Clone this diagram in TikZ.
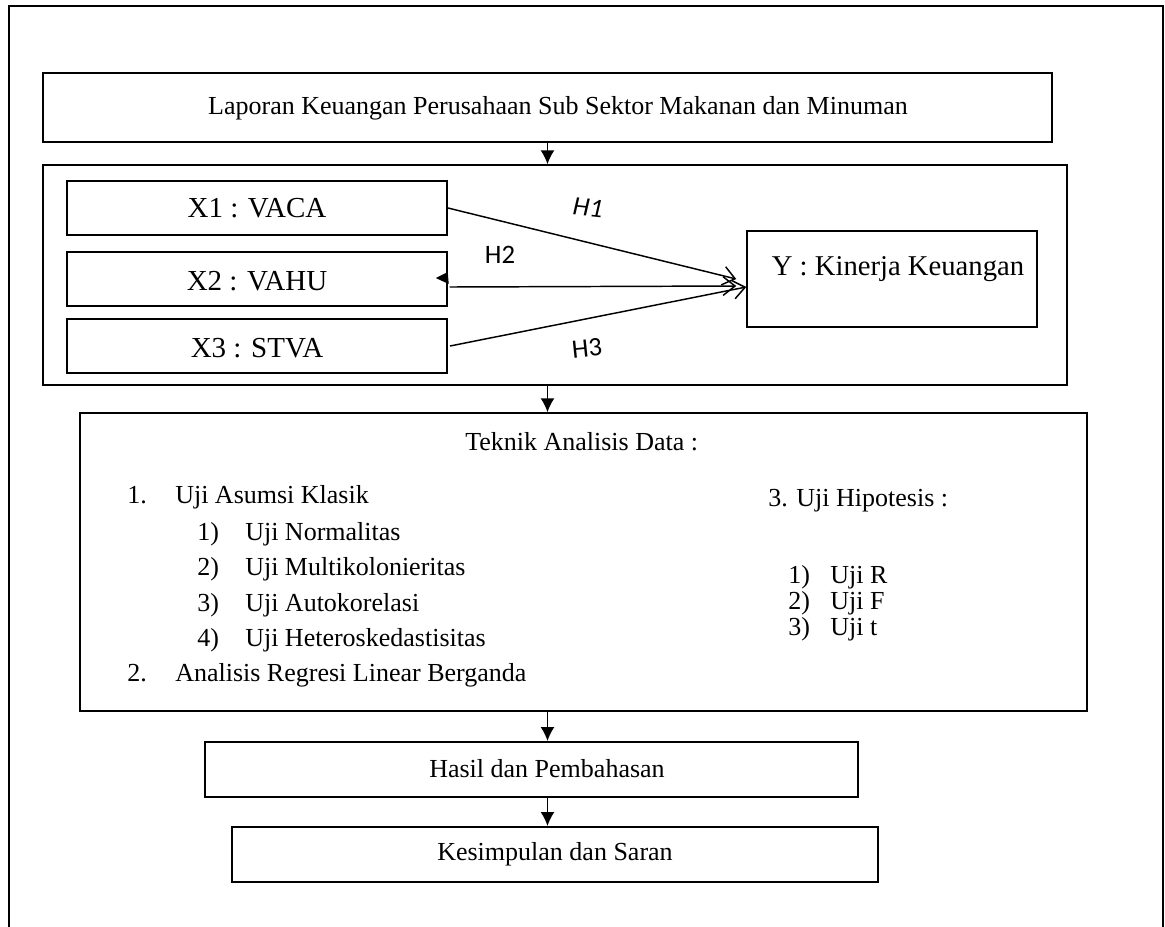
\documentclass[tikz,border=0pt]{standalone}
\usepackage{fontspec}
\setmainfont{Liberation Serif}
\newfontfamily\hfont{Carlito}
\usetikzlibrary{arrows.meta,calc}
\newcommand\bx[6][]{\node[box, #1, minimum width={(#5-#3)*0.75pt}, minimum height={(#6-#4)*0.75pt}] (#2) at ({(#3+#5)/2},{(#4+#6)/2}) {};}
\begin{document}
\begin{tikzpicture}[x=0.75pt,y=-0.75pt,
  box/.style={draw, line width=1.5pt, rectangle, inner sep=0pt},
  thinbox/.style={line width=1.1pt},
  flow/.style={-{Latex[length=10.5pt,width=10.5pt]}, line width=1.2pt},
  harrow/.style={-{Straight Barb[length=9pt,width=14pt,line width=1.1pt]}, line width=1.1pt},
  txt/.style={font=\fontsize{19.5}{23}\selectfont, inner sep=0pt},
  big/.style={font=\fontsize{21.75}{26}\selectfont, inner sep=0pt},
  mid/.style={font=\fontsize{21.5}{25}\selectfont, inner sep=0pt},
  hl/.style={font=\hfont\fontsize{20}{24}\selectfont, inner sep=0pt},
  hli/.style={font=\hfont\itshape\fontsize{20}{24}\selectfont, inner sep=0pt},
  li/.style={txt, anchor=base west}]
\useasboundingbox (0,0) rectangle (1165,926);
% outer frame
\draw[line width=1.5pt] (9,940) -- (9,6) -- (1163,6) -- (1163,940);
% boxes
\bx{lap}{43}{73}{1052}{142}
\bx[thinbox]{grp}{43}{165}{1067}{385}
\bx{x1}{67}{181}{447}{235}
\bx[thinbox]{x2}{67}{252}{447}{306}
\bx{x3}{67}{319}{447}{373}
\bx[thinbox]{y}{747}{231}{1037}{327}
\bx[thinbox]{tek}{80}{413}{1087}{711}
\bx{has}{205}{742}{858}{797}
\bx{kes}{232}{827}{878}{882}
% texts
\node[txt] (laptext) at (558,108) {Laporan Keuangan Perusahaan Sub Sektor Makanan dan Minuman};
\node[big] (x1t) at (x1.center) {X1 : VACA};
\node[big] (x2t) at ($(x2.center)+(0,2)$) {X2 : VAHU};
\node[big] (x3t) at ($(x3.center)+(0,2)$) {X3 : STVA};
\node[mid] (yt) at ($(y.center)+(6,-10)$) {Y : Kinerja Keuangan};
\node[txt] (hast) at (547,769) {Hasil dan Pembahasan};
\node[txt] (kest) at (555,854) {Kesimpulan dan Saran};
% Teknik list
\node[li] (tk) at (465,450) {Teknik Analisis Data :};
\node[li] (n1) at (127,503) {1.};
\node[li] (n1t) at (175,503) {Uji Asumsi Klasik};
\node[li] (a1) at (197,540) {1)};
\node[li] (a1t) at (245,540) {Uji Normalitas};
\node[li] (a2) at (197,575.5) {2)};
\node[li] (a2t) at (245,575.5) {Uji Multikolonieritas};
\node[li] (a3) at (197,611) {3)};
\node[li] (a3t) at (245,611) {Uji Autokorelasi};
\node[li] (a4) at (197,646) {4)};
\node[li] (a4t) at (245,646) {Uji Heteroskedastisitas};
\node[li] (n2) at (127,681) {2.};
\node[li] (n2t) at (175,681) {Analisis Regresi Linear Berganda};
\node[li] (n3) at (768,506) {3. Uji Hipotesis :};
\node[li] (b1) at (788,583) {1)};
\node[li] (b1t) at (830,583) {Uji R};
\node[li] (b2) at (788,609) {2)};
\node[li] (b2t) at (830,609) {Uji F};
\node[li] (b3) at (788,635) {3)};
\node[li] (b3t) at (830,635) {Uji t};
% flow arrows
\draw[flow] (lap.south) -- (lap.south |- grp.north);
\draw[flow] (grp.south -| lap.south) -- (lap.south |- tek.north);
\draw[flow] (tek.south -| lap.south) -- (lap.south |- has.north);
\draw[flow] (has.south -| lap.south) -- (lap.south |- kes.north);
% hypothesis arrows
\draw[harrow] (x1.east) -- ($(y.west)+(-10,0)$);
\draw[harrow] ($(x2.east)+(2,8)$) -- ($(y.west)+(-10,7)$);
\draw[harrow] ($(x3.east)+(2,0)$) -- ($(y.west)+(0,8)$);
\fill ($(x2.east)+(0,-7)$) -- ($(x2.east)+(-12,-1)$) -- ($(x2.east)+(1,5)$) -- cycle;
% H labels
\node[hli, rotate=-6] (h1) at (588,208) {H1};
\node[hl] (h2) at (500,255) {H2};
\node[hl, rotate=6] (h3) at (587,348) {H3};
\end{tikzpicture}
\end{document}
